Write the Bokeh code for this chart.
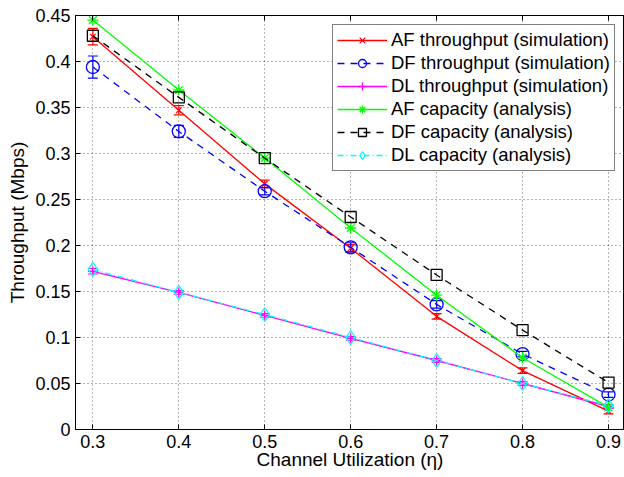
from bokeh.plotting import figure
from bokeh.models import ColumnDataSource, Whisker, TeeHead, Legend, LegendItem, LinearAxis, Range1d, FixedTicker
from bokeh.embed import file_html
from bokeh.resources import INLINE

eta = [0.3, 0.4, 0.5, 0.6, 0.7, 0.8, 0.9]
af_sim = [0.427, 0.347, 0.267, 0.197, 0.123, 0.064, 0.020]
af_err = [0.009, 0.005, 0.004, 0.004, 0.003, 0.003, 0.003]
df_sim = [0.394, 0.324, 0.259, 0.198, 0.136, 0.082, 0.038]
df_err = [0.012, 0.0065, 0.004, 0.005, 0.004, 0.003, 0.003]
dl_sim = [0.172, 0.149, 0.124, 0.099, 0.075, 0.050, 0.025]
dl_err = [0.003, 0.002, 0.002, 0.002, 0.002, 0.002, 0.002]
af_cap = [0.445, 0.369, 0.295, 0.219, 0.146, 0.078, 0.024]
df_cap = [0.428, 0.361, 0.295, 0.231, 0.168, 0.108, 0.051]
dl_cap = [0.174, 0.149, 0.125, 0.100, 0.075, 0.050, 0.026]

x_ticks = [0.3, 0.4, 0.5, 0.6, 0.7, 0.8, 0.9]
y_ticks = [0, 0.05, 0.1, 0.15, 0.2, 0.25, 0.3, 0.35, 0.4, 0.45]
y_tick_labels = ["0", "0.05", "0.1", "0.15", "0.2", "0.25", "0.3", "0.35", "0.4", "0.45"]

FONT = "Liberation Sans"
FS = "18px"

p = figure(width=624, height=477, output_backend="svg", toolbar_location=None,
           x_range=Range1d(0.2798, 0.9186), y_range=Range1d(0, 0.45),
           min_border_left=75, min_border_right=0, min_border_top=15, min_border_bottom=48)
p.background_fill_color = "white"
p.border_fill_color = "white"
p.outline_line_color = "black"
p.outline_line_width = 1

for ax in [p.xaxis[0], p.yaxis[0]]:
    ax.major_tick_in = 5
    ax.major_tick_out = 0
    ax.minor_tick_in = 0
    ax.minor_tick_out = 0
    ax.axis_line_color = "black"
    ax.major_tick_line_color = "black"
    ax.major_label_text_font = FONT
    ax.major_label_text_font_size = FS
    ax.major_label_text_color = "black"
    ax.axis_label_text_font = FONT
    ax.axis_label_text_font_size = "19px"
    ax.axis_label_text_font_style = "normal"
    ax.axis_label_text_color = "black"

p.xaxis.ticker = FixedTicker(ticks=x_ticks)
p.yaxis.ticker = FixedTicker(ticks=y_ticks)
p.yaxis.major_label_overrides = dict(zip(y_ticks, y_tick_labels))
p.xaxis.axis_label = "Channel Utilization (η)"
p.yaxis.axis_label = "Throughput (Mbps)"
p.xaxis.major_label_standoff = 5
p.xaxis.axis_label_standoff = -2
p.yaxis.major_label_standoff = 5
p.yaxis.axis_label_standoff = 4

top_axis = LinearAxis(ticker=FixedTicker(ticks=x_ticks),
                      major_label_overrides={t: "" for t in x_ticks},
                      major_tick_in=5, major_tick_out=0, minor_tick_in=0, minor_tick_out=0,
                      major_label_standoff=0, axis_line_color="black")
p.add_layout(top_axis, "above")

p.xgrid.grid_line_color = "black"
p.ygrid.grid_line_color = "black"
p.xgrid.grid_line_dash = "1 3"
p.ygrid.grid_line_dash = "1 3"
p.xgrid.grid_line_alpha = 0.6
p.ygrid.grid_line_alpha = 0.6

def errbars(vals, errs, color):
    src = ColumnDataSource(dict(x=eta, lower=[v - e for v, e in zip(vals, errs)],
                                upper=[v + e for v, e in zip(vals, errs)]))
    w = Whisker(base="x", lower="lower", upper="upper", source=src, line_color=color, line_width=1.2,
                upper_head=TeeHead(size=10, line_color=color, line_width=1.2),
                lower_head=TeeHead(size=10, line_color=color, line_width=1.2))
    p.add_layout(w)

errbars(af_sim, af_err, "#ff0000")
errbars(df_sim, df_err, "#0000ff")
errbars(dl_sim, dl_err, "#ff00ff")

items = []
r1 = p.line(eta, af_sim, line_color="#ff0000", line_width=1.3)
m1 = p.scatter(eta, af_sim, marker="x", size=8, line_color="#ff0000", line_width=1.2)
items.append(LegendItem(label="AF throughput (simulation)", renderers=[r1, m1]))

r2 = p.line(eta, df_sim, line_color="#0000ff", line_width=1.3, line_dash="7 6")
m2 = p.scatter(eta, df_sim, marker="circle", size=13, fill_color=None, line_color="#0000ff", line_width=1.3)
items.append(LegendItem(label="DF throughput (simulation)", renderers=[r2, m2]))

r3 = p.line(eta, dl_sim, line_color="#ff00ff", line_width=1.3)
m3 = p.scatter(eta, dl_sim, marker="cross", size=10, line_color="#ff00ff", line_width=1.3)
items.append(LegendItem(label="DL throughput (simulation)", renderers=[r3, m3]))

r4 = p.line(eta, af_cap, line_color="#00ff00", line_width=1.3)
m4 = p.scatter(eta, af_cap, marker="asterisk", size=11, line_color="#00ff00", line_width=1.3)
items.append(LegendItem(label="AF capacity (analysis)", renderers=[r4, m4]))

r5 = p.line(eta, df_cap, line_color="black", line_width=1.3, line_dash="7 6")
m5 = p.scatter(eta, df_cap, marker="square", size=11, fill_color=None, line_color="black", line_width=1.3)
items.append(LegendItem(label="DF capacity (analysis)", renderers=[r5, m5]))

r6 = p.line(eta, dl_cap, line_color="#00ffff", line_width=1.3, line_dash="6 3 1 3")
m6 = p.scatter(eta, dl_cap, marker="diamond", size=14, fill_color=None, line_color="#00ffff", line_width=1.3)
items.append(LegendItem(label="DL capacity (analysis)", renderers=[r6, m6]))

legend = Legend(items=items, location="top_right", margin=9,
                label_text_font=FONT, label_text_font_size="18.5px", label_text_color="black",
                border_line_color="black", border_line_width=1, background_fill_alpha=1,
                glyph_width=50, glyph_height=20, label_height=20, spacing=1, padding=4,
                label_standoff=4)
p.add_layout(legend)

open("out.html", "w").write(file_html(p, INLINE))
